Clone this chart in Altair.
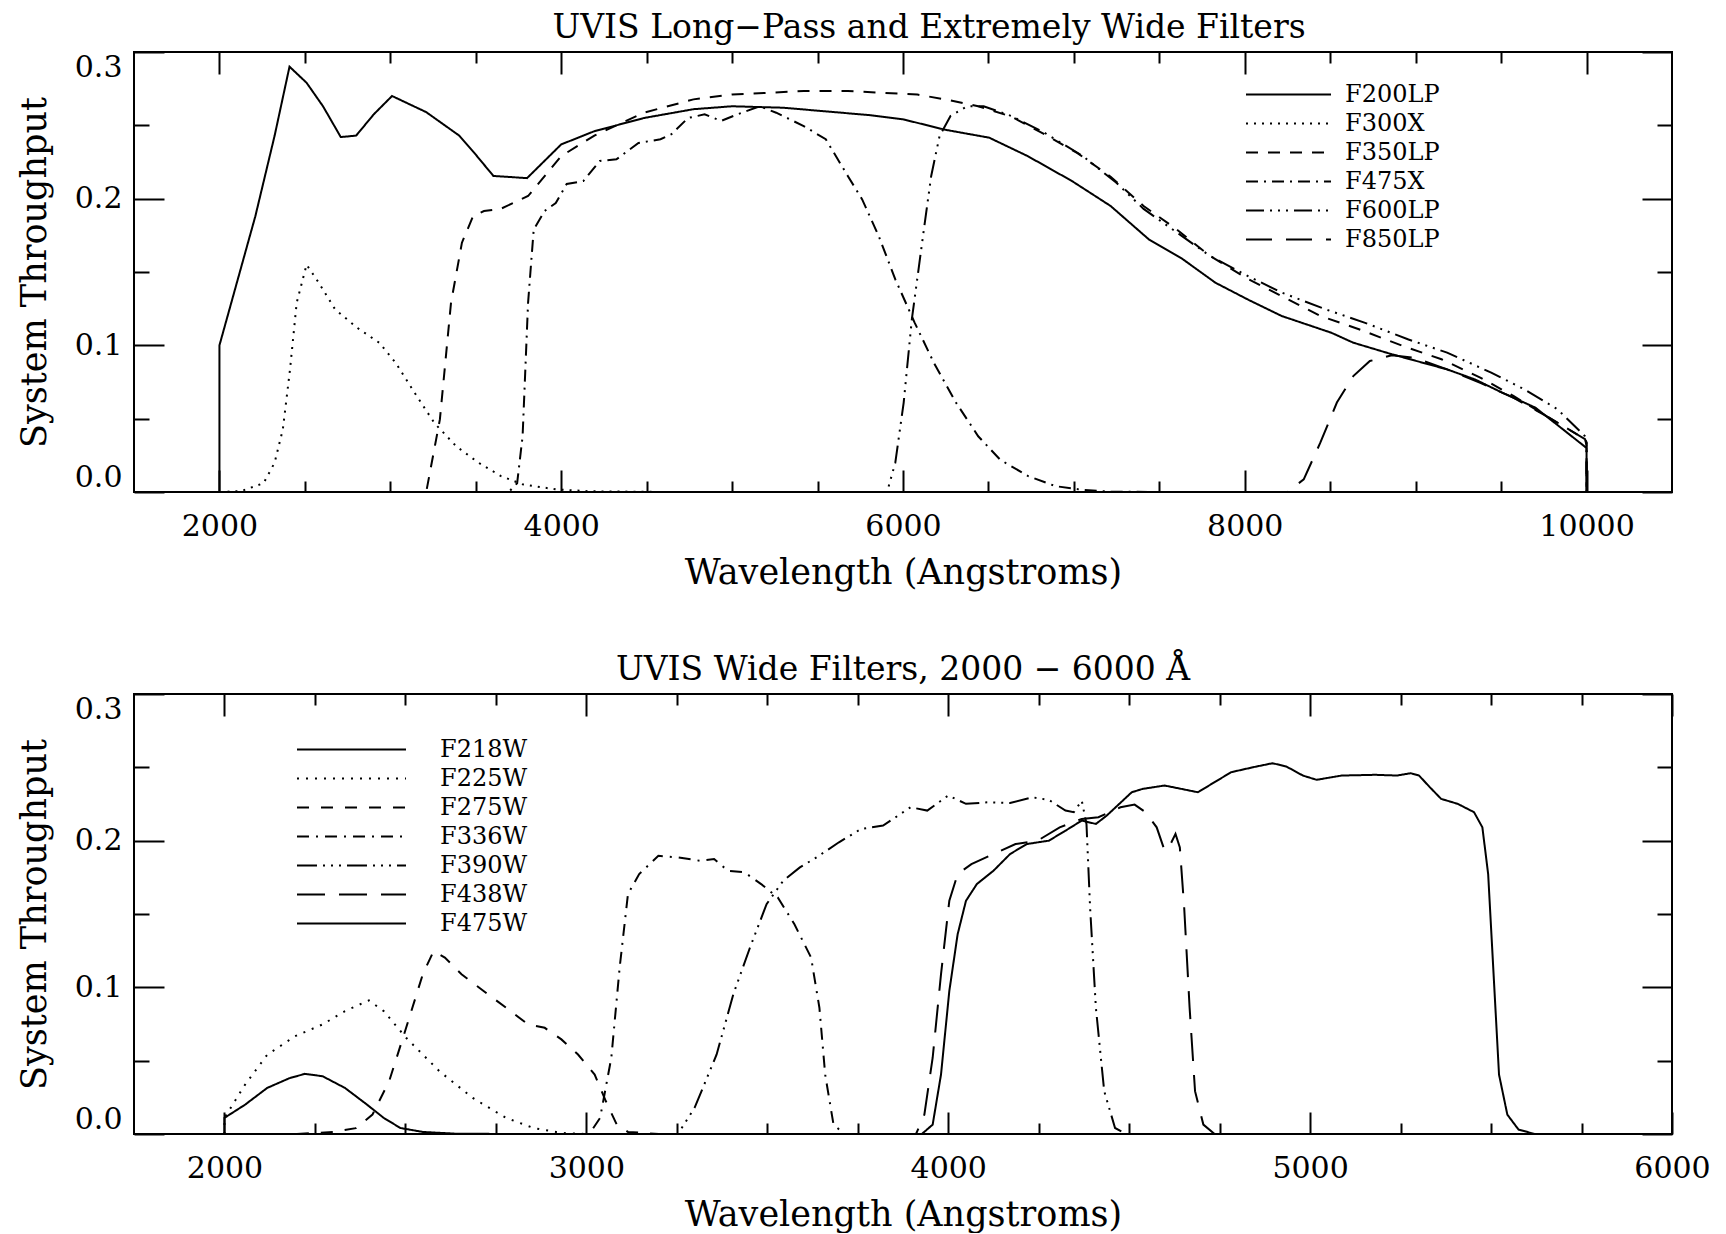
import altair as alt
import pandas as pd

# ---------------- Top panel: long-pass and extremely wide filters ----------------
top_names = ["F200LP", "F300X", "F350LP", "F475X", "F600LP", "F850LP"]
top_dashes = [[1, 0], [2, 6], [12, 10], [12, 6, 2, 6], [18, 6, 2, 6, 2, 6, 2, 6], [26, 14]]

f200lp_wl = [2000, 2000, 2210, 2323, 2410, 2510, 2606, 2710, 2800, 2903, 3010, 3210, 3403, 3500,
             3603, 3800, 4000, 4194, 4484, 4774, 5000, 5300, 5600, 5800, 6004, 6246, 6504, 6730,
             6989, 7215, 7441, 7634, 7828, 8022, 8216, 8506, 8635, 8861, 9184, 9346, 9507, 9701,
             10000, 10000]
f200lp_tp = [0, 0.1, 0.188, 0.243, 0.290, 0.279, 0.263, 0.242, 0.243, 0.2575, 0.270, 0.259, 0.243,
             0.230, 0.2155, 0.214, 0.237, 0.246, 0.255, 0.261, 0.263, 0.262, 0.259, 0.257, 0.254,
             0.247, 0.2416, 0.229, 0.212, 0.195, 0.172, 0.159, 0.1427, 0.131, 0.12, 0.1086, 0.1018,
             0.0939, 0.0836, 0.0768, 0.0677, 0.0575, 0.030, 0]

f300x_wl = [2000, 2129, 2258, 2323, 2371, 2413, 2452, 2510, 2581, 2677, 2806, 2935, 3032, 3129,
            3258, 3387, 3516, 3645, 3774, 3968, 4161, 4613, 5000]
f300x_tp = [0, 0.0007, 0.006, 0.02, 0.0427, 0.0836, 0.129, 0.155, 0.1427, 0.1245, 0.112, 0.1018,
            0.088, 0.07, 0.047, 0.031, 0.02, 0.011, 0.0052, 0.0018, 0.0005, 0, 0]

f350lp_wl = [3100, 3210, 3290, 3355, 3419, 3484, 3548, 3645, 3806, 4000, 4194, 4484, 4774, 5000,
             5419, 5677, 6084, 6246, 6440, 6633, 6827, 7021, 7215, 7408, 7602, 7796, 8022, 8216,
             8442, 8668, 8926, 9151, 9378, 9572, 9765, 9991, 10000, 10000]
f350lp_tp = [0, 0, 0.0495, 0.129, 0.17, 0.188, 0.1916, 0.193, 0.2018, 0.229, 0.243, 0.2586, 0.2677,
             0.271, 0.2734, 0.2734, 0.271, 0.2677, 0.263, 0.256, 0.244, 0.231, 0.215, 0.195, 0.179,
             0.161, 0.145, 0.1336, 0.12, 0.111, 0.0995, 0.0905, 0.078, 0.0655, 0.0518, 0.036,
             0.034, 0]

f475x_wl = [3600, 3693, 3742, 3774, 3806, 3839, 3903, 3968, 4032, 4129, 4226, 4323, 4452, 4581,
            4645, 4742, 4839, 4935, 5032, 5161, 5258, 5419, 5548, 5677, 5761, 5858, 5955, 6068,
            6181, 6310, 6440, 6569, 6730, 6892, 7053, 7215, 7500, 8000]
f475x_tp = [0, 0, 0.006, 0.038, 0.129, 0.179, 0.1916, 0.197, 0.21, 0.212, 0.2257, 0.2268, 0.238,
            0.2405, 0.244, 0.255, 0.2575, 0.253, 0.2575, 0.263, 0.2586, 0.2495, 0.2405, 0.2155,
            0.1995, 0.1745, 0.145, 0.1155, 0.088, 0.061, 0.038, 0.022, 0.011, 0.004, 0.0014,
            0.0002, 0, 0]

f600lp_wl = [5800, 5907, 5955, 6004, 6052, 6117, 6165, 6214, 6278, 6375, 6472, 6633, 6827, 7053,
             7247, 7408, 7602, 7796, 8022, 8216, 8474, 8700, 8958, 9184, 9442, 9636, 9830, 9991,
             10000, 10000]
f600lp_tp = [0, 0, 0.02, 0.061, 0.118, 0.1745, 0.2155, 0.2427, 0.2564, 0.263, 0.263, 0.2564, 0.245,
             0.229, 0.211, 0.193, 0.177, 0.161, 0.147, 0.136, 0.1245, 0.1155, 0.104, 0.095, 0.0814,
             0.07, 0.0564, 0.038, 0.035, 0]

f850lp_wl = [8100, 8248, 8345, 8442, 8539, 8635, 8732, 8861, 8990, 9184, 9378, 9572, 9765, 9991,
             10000, 10000]
f850lp_tp = [0, 0, 0.0086, 0.0336, 0.061, 0.079, 0.0893, 0.0932, 0.0916, 0.0836, 0.0745, 0.0643,
             0.0518, 0.036, 0.032, 0]

top_x_domain = [1500, 10500]
top_x_major = [2000, 4000, 6000, 8000, 10000]
top_x_minor = [2500, 3000, 3500, 4500, 5000, 5500, 6500, 7000, 7500, 8500, 9000, 9500]

# ---------------- Bottom panel: wide filters 2000-6000 A ----------------
bot_names = ["F218W", "F225W", "F275W", "F336W", "F390W", "F438W", "F475W"]
bot_dashes = [[1, 0], [2, 7], [12, 12], [12, 7, 2, 7], [20, 6, 2, 6, 2, 6, 2, 6], [28, 14], [1, 0]]

f218w_wl = [2000, 2000, 2057, 2118, 2179, 2222, 2271, 2333, 2394, 2440, 2486, 2548, 2640, 2800]
f218w_tp = [0, 0.011, 0.02, 0.0314, 0.038, 0.041, 0.0394, 0.0314, 0.02, 0.011, 0.0041, 0.0014,
            0.0002, 0]

f225w_wl = [2000, 2000, 2057, 2118, 2195, 2271, 2333, 2399, 2440, 2502, 2594, 2686, 2778, 2854,
            2931, 3000]
f225w_tp = [0, 0.011, 0.0337, 0.054, 0.0667, 0.0747, 0.0838, 0.0911, 0.0838, 0.0656, 0.0428,
            0.0246, 0.011, 0.0041, 0.0007, 0]

f275w_wl = [2200, 2302, 2363, 2409, 2455, 2502, 2548, 2578, 2609, 2655, 2716, 2778, 2839, 2885,
            2931, 2977, 3023, 3054, 3084, 3115, 3200]
f275w_tp = [0, 0.0014, 0.004, 0.0132, 0.036, 0.0724, 0.1089, 0.1248, 0.1203, 0.1089, 0.0975,
            0.0861, 0.0747, 0.0724, 0.0645, 0.0542, 0.0405, 0.0223, 0.0064, 0.0014, 0]

f336w_wl = [2950, 3008, 3038, 3069, 3092, 3115, 3146, 3199, 3253, 3314, 3353, 3391, 3437, 3483,
            3529, 3575, 3621, 3644, 3660, 3683, 3713, 3800]
f336w_tp = [0, 0, 0.011, 0.052, 0.1134, 0.1636, 0.1772, 0.1897, 0.1886, 0.1863, 0.1875, 0.1795,
            0.1784, 0.1704, 0.1613, 0.143, 0.1203, 0.0861, 0.0405, 0.0064, 0, 0]

f390w_wl = [3200, 3253, 3299, 3360, 3406, 3452, 3498, 3544, 3590, 3636, 3698, 3744, 3759, 3820,
            3896, 3942, 4000, 4049, 4110, 4171, 4232, 4278, 4324, 4347, 4369, 4382, 4392, 4408,
            4431, 4461, 4492, 4600]
f390w_tp = [0, 0, 0.0178, 0.0542, 0.0952, 0.127, 0.1567, 0.1727, 0.1818, 0.1886, 0.1989, 0.2057,
            0.208, 0.2103, 0.2228, 0.2205, 0.2308, 0.2251, 0.2262, 0.2257, 0.2296, 0.2278, 0.2205,
            0.2194, 0.2273, 0.2114, 0.1544, 0.0861, 0.0292, 0.0041, 0, 0]

f438w_wl = [3850, 3911, 3934, 3957, 3980, 4003, 4026, 4064, 4125, 4186, 4247, 4308, 4369, 4415,
            4476, 4515, 4545, 4576, 4598, 4615, 4628, 4640, 4652, 4667, 4682, 4705, 4736, 4800]
f438w_tp = [0, 0, 0.0132, 0.052, 0.1089, 0.159, 0.1772, 0.184, 0.1909, 0.1977, 0.2, 0.2091,
            0.2148, 0.216, 0.2228, 0.2246, 0.2194, 0.2091, 0.1932, 0.198, 0.2046, 0.1954, 0.1544,
            0.0861, 0.0292, 0.0064, 0, 0]

f475w_wl = [3850, 3927, 3957, 3980, 4003, 4026, 4049, 4079, 4125, 4171, 4217, 4278, 4324, 4369,
            4408, 4438, 4507, 4537, 4598, 4644, 4690, 4736, 4782, 4843, 4896, 4934, 4980, 5018,
            5087, 5179, 5240, 5278, 5301, 5331, 5362, 5408, 5453, 5476, 5492, 5507, 5522, 5545,
            5576, 5621, 5700]
f475w_tp = [0, 0, 0.0064, 0.0405, 0.0975, 0.1362, 0.159, 0.1704, 0.1795, 0.1909, 0.1977, 0.2,
            0.2068, 0.2137, 0.2114, 0.2171, 0.233, 0.2353, 0.2376, 0.2353, 0.233, 0.2399, 0.2467,
            0.2501, 0.2528, 0.2506, 0.2444, 0.2415, 0.2444, 0.2449, 0.2444, 0.246, 0.2444, 0.2364,
            0.2285, 0.2251, 0.2194, 0.2091, 0.1772, 0.1089, 0.0405, 0.0132, 0.003, 0, 0]

bot_x_domain = [1750, 6000]
bot_x_major = [2000, 3000, 4000, 5000, 6000]
bot_x_minor = [2250, 2500, 2750, 3250, 3500, 3750, 4250, 4500, 4750, 5250, 5500, 5750]

y_domain = [0, 0.3]
y_major = [0.0, 0.1, 0.2, 0.3]
y_minor = [0.05, 0.15, 0.25]

FONT = "DejaVu Serif"


def build_df(names, wls, tps):
    rows = []
    for name, wl, tp in zip(names, wls, tps):
        for i, (w, t) in enumerate(zip(wl, tp)):
            rows.append({"filter": name, "wl": w, "tp": t, "idx": i})
    return pd.DataFrame(rows)


def panel(df, names, dashes, xdom, xmajor, xminor, title, title_dx, legend_x, legend_y,
          sym_len, label_offset):
    xs = alt.Scale(domain=xdom, nice=False, zero=False)
    ys = alt.Scale(domain=y_domain, nice=False, zero=False)
    base = alt.Chart(df)
    lines = base.mark_line(color="black", strokeWidth=2, clip=True).encode(
        x=alt.X("wl:Q", scale=xs,
                axis=alt.Axis(orient="bottom", values=xmajor, ticks=False, tickSize=0,
                              labelFlush=False, labelPadding=19, format="d",
                              title="Wavelength (Angstroms)", titlePadding=14)),
        y=alt.Y("tp:Q", scale=ys,
                axis=alt.Axis(orient="left", values=y_major, ticks=False, tickSize=0,
                              labelFlush=True, labelPadding=12, format=".1f",
                              title="System Throughput", titlePadding=22)),
        strokeDash=alt.StrokeDash(
            "filter:N", sort=names,
            scale=alt.Scale(domain=names, range=dashes),
            legend=alt.Legend(title=None, orient="none", legendX=legend_x, legendY=legend_y,
                              symbolType="stroke", symbolSize=sym_len * sym_len,
                              symbolStrokeWidth=2, symbolStrokeColor="black",
                              clipHeight=27, rowPadding=2, padding=0,
                              labelFont=FONT, labelFontSize=24, labelColor="black",
                              labelOffset=label_offset)),
        order="idx:Q",
    )

    def ticks(xvals, xorient, xlen, yvals, yorient, ylen):
        return base.mark_point(opacity=0).encode(
            x=alt.X("wl:Q", scale=xs,
                    axis=alt.Axis(orient=xorient, values=xvals, offset=-xlen, tickSize=xlen,
                                  labels=False, title=None)),
            y=alt.Y("tp:Q", scale=ys,
                    axis=alt.Axis(orient=yorient, values=yvals, offset=-ylen, tickSize=ylen,
                                  labels=False, title=None)),
        )

    t1 = ticks(xmajor, "bottom", 22, y_major, "left", 30)
    t2 = ticks(xminor, "bottom", 11, y_minor, "left", 15)
    t3 = ticks(xmajor, "top", 22, y_major, "right", 30)
    t4 = ticks(xminor, "top", 11, y_minor, "right", 15)

    return alt.layer(lines, t1, t2, t3, t4).resolve_axis(
        x="independent", y="independent"
    ).properties(
        width=1538, height=440,
        title=alt.TitleParams(title, frame="group", anchor="middle", dx=title_dx,
                              baseline="alphabetic", offset=-20),
    )


top_df = build_df(top_names,
                  [f200lp_wl, f300x_wl, f350lp_wl, f475x_wl, f600lp_wl, f850lp_wl],
                  [f200lp_tp, f300x_tp, f350lp_tp, f475x_tp, f600lp_tp, f850lp_tp])
bot_df = build_df(bot_names,
                  [f218w_wl, f225w_wl, f275w_wl, f336w_wl, f390w_wl, f438w_wl, f475w_wl],
                  [f218w_tp, f225w_tp, f275w_tp, f336w_tp, f390w_tp, f438w_tp, f475w_tp])

top = panel(top_df, top_names, top_dashes, top_x_domain, top_x_major, top_x_minor,
            "UVIS Long\u2212Pass and Extremely Wide Filters", 26, 1111, 29, 85, 13)
bottom = panel(bot_df, bot_names, bot_dashes, bot_x_domain, bot_x_major, bot_x_minor,
               "UVIS Wide Filters, 2000 \u2212 6000 \u00c5", 0, 162, 42, 109, 33)

chart = alt.vconcat(top, bottom, spacing=62).resolve_scale(
    strokeDash="independent"
).resolve_legend(
    strokeDash="independent"
).properties(
    padding={"left": 8, "top": 3, "right": 5, "bottom": 0},
    background="white",
).configure_view(
    stroke="black", strokeWidth=2
).configure_axis(
    labelFont=FONT, labelFontSize=30, labelColor="black",
    titleFont=FONT, titleFontSize=35, titleFontWeight="normal", titleColor="black",
    tickColor="black", tickWidth=2, grid=False, domain=False,
).configure_title(
    font=FONT, fontSize=33, fontWeight="normal", color="black"
)

chart.save("out.html", embed_options={"renderer": "svg", "actions": False})
